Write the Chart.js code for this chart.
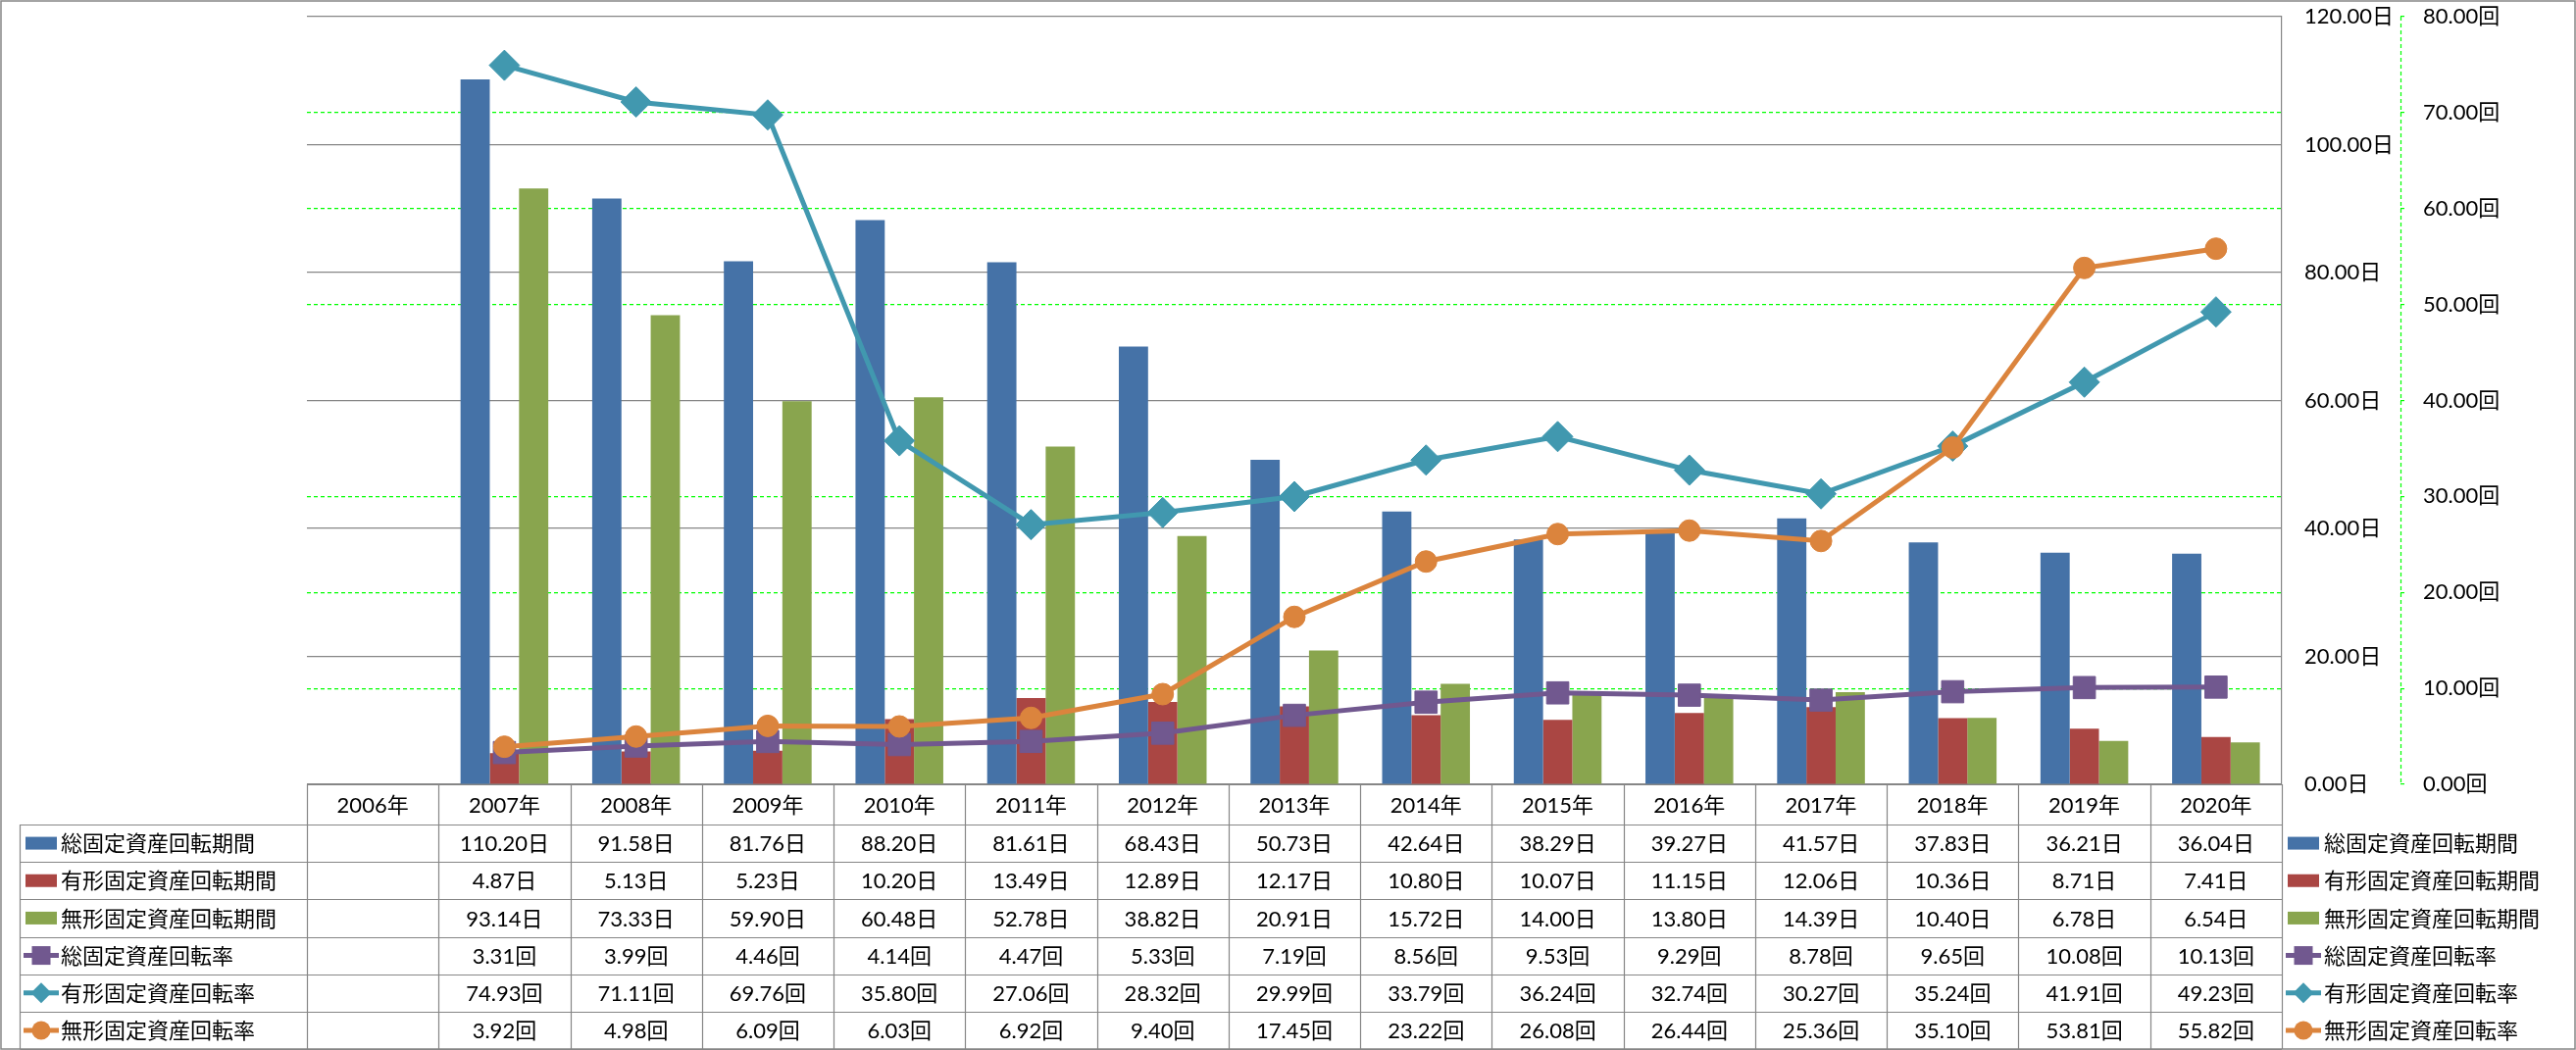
<!DOCTYPE html>
<html>
<head>
<meta charset="utf-8">
<title>固定資産回転期間・回転率</title>
<script src="https://cdn.jsdelivr.net/npm/chart.js@4.4.1/dist/chart.umd.min.js"></script>
<style>
html, body { margin: 0; padding: 0; background: #fff; }
#wrap { width: 2627px; height: 1071px; }
</style>
</head>
<body>
<div id="wrap"><canvas id="chart" width="2627" height="1071"></canvas></div>
<script>
// categories
var years = ['2006年', '2007年', '2008年', '2009年', '2010年', '2011年', '2012年', '2013年',
             '2014年', '2015年', '2016年', '2017年', '2018年', '2019年', '2020年'];

// days (primary axis)
var totalDays = [null, 110.20, 91.58, 81.76, 88.20, 81.61, 68.43, 50.73, 42.64, 38.29, 39.27, 41.57, 37.83, 36.21, 36.04];
var tangibleDays = [null, 4.87, 5.13, 5.23, 10.20, 13.49, 12.89, 12.17, 10.80, 10.07, 11.15, 12.06, 10.36, 8.71, 7.41];
var intangibleDays = [null, 93.14, 73.33, 59.90, 60.48, 52.78, 38.82, 20.91, 15.72, 14.00, 13.80, 14.39, 10.40, 6.78, 6.54];

// times (secondary axis)
var totalTurn = [null, 3.31, 3.99, 4.46, 4.14, 4.47, 5.33, 7.19, 8.56, 9.53, 9.29, 8.78, 9.65, 10.08, 10.13];
var tangibleTurn = [null, 74.93, 71.11, 69.76, 35.80, 27.06, 28.32, 29.99, 33.79, 36.24, 32.74, 30.27, 35.24, 41.91, 49.23];
var intangibleTurn = [null, 3.92, 4.98, 6.09, 6.03, 6.92, 9.40, 17.45, 23.22, 26.08, 26.44, 25.36, 35.10, 53.81, 55.82];

var dayTicks = { min: 0, max: 120, step: 20 };
var turnTicks = { min: 0, max: 80, step: 10 };

var FONT = "Lato, 'Noto Sans CJK JP', sans-serif";
var FONT_SIZE = 22;
var GREY = '#868686';
var GREEN = '#00ff00';

// rows of the data table, same order as Excel shows them
var rows = [
    { name: '総固定資産回転期間', data: totalDays, unit: '日', color: '#4572a7', kind: 'bar' },
    { name: '有形固定資産回転期間', data: tangibleDays, unit: '日', color: '#aa4643', kind: 'bar' },
    { name: '無形固定資産回転期間', data: intangibleDays, unit: '日', color: '#89a54e', kind: 'bar' },
    { name: '総固定資産回転率', data: totalTurn, unit: '回', color: '#71588f', kind: 'rect' },
    { name: '有形固定資産回転率', data: tangibleTurn, unit: '回', color: '#4198af', kind: 'rectRot' },
    { name: '無形固定資産回転率', data: intangibleTurn, unit: '回', color: '#db843d', kind: 'circle' }
];

function drawMarker(ctx, kind, x, y, s) {
    ctx.beginPath();
    if (kind === 'rect') {
        ctx.rect(x - s, y - s, s * 2, s * 2);
    } else if (kind === 'rectRot') {
        ctx.moveTo(x, y - s * 1.1);
        ctx.lineTo(x + s * 1.1, y);
        ctx.lineTo(x, y + s * 1.1);
        ctx.lineTo(x - s * 1.1, y);
        ctx.closePath();
    } else {
        ctx.arc(x, y, s, 0, Math.PI * 2);
    }
    ctx.fill();
}

function drawKey(ctx, row, x, y) {
    ctx.fillStyle = row.color;
    if (row.kind === 'bar') {
        ctx.fillRect(x + 2, y - 6.5, 32, 13);
        return;
    }
    ctx.strokeStyle = row.color;
    ctx.lineWidth = 5;
    ctx.beginPath();
    ctx.moveTo(x, y);
    ctx.lineTo(x + 36, y);
    ctx.stroke();
    drawMarker(ctx, row.kind, x + 18, y, 9.5);
}

// the tick labels may stick out above the plot, like in Excel
function noLabelPadding(scale) {
    scale.paddingTop = 0;
    scale.paddingBottom = 0;
}

// a 回 gridline that falls on a 日 gridline is not drawn (grey one wins)
function turnGridColor(ctx) {
    if (!ctx.tick) return GREEN;
    var d = ctx.tick.value / turnTicks.max * dayTicks.max;
    var n = d / dayTicks.step;
    return Math.abs(n - Math.round(n)) < 1e-6 ? 'rgba(0,0,0,0)' : GREEN;
}

var tablePlugin = {
    id: 'dataTable',
    afterDraw: function(chart) {
        var ctx = chart.ctx;
        var area = chart.chartArea;
        var xs = chart.scales.x;
        var catW = (area.right - area.left) / years.length;
        var headTop = area.bottom;
        var headBottom = headTop + 41;
        var tableBottom = 1070;
        var rowH = (tableBottom - headBottom) / rows.length;
        var labelLeft = 20.5;

        ctx.save();
        ctx.strokeStyle = GREY;
        ctx.lineWidth = 1.2;
        ctx.setLineDash([]);

        // horizontal lines
        ctx.beginPath();
        ctx.moveTo(area.left, headTop + 0.5);
        ctx.lineTo(area.right, headTop + 0.5);
        for (var r = 0; r <= rows.length; r++) {
            var yy = Math.round(headBottom + r * rowH) + 0.5;
            ctx.moveTo(labelLeft, yy);
            ctx.lineTo(area.right, yy);
        }
        // vertical lines
        ctx.moveTo(labelLeft, headBottom);
        ctx.lineTo(labelLeft, tableBottom);
        for (var c = 0; c <= years.length; c++) {
            var xx = Math.round(area.left + c * catW) + 0.5;
            ctx.moveTo(xx, headTop);
            ctx.lineTo(xx, tableBottom);
        }
        ctx.stroke();

        ctx.font = FONT_SIZE + 'px ' + FONT;
        ctx.fillStyle = '#000';
        ctx.textBaseline = 'middle';
        ctx.textAlign = 'center';
        for (var i = 0; i < years.length; i++) {
            ctx.fillText(years[i], xs.getPixelForValue(i), (headTop + headBottom) / 2 + 1);
        }

        for (var k = 0; k < rows.length; k++) {
            var row = rows[k];
            var cy = headBottom + k * rowH + rowH / 2;
            drawKey(ctx, row, 24, cy);
            ctx.fillStyle = '#000';
            ctx.textAlign = 'left';
            ctx.fillText(row.name, 62, cy + 1);
            ctx.textAlign = 'center';
            for (var j = 0; j < years.length; j++) {
                if (row.data[j] === null) continue;
                ctx.fillText(row.data[j].toFixed(2) + row.unit, xs.getPixelForValue(j), cy + 1);
            }

            // legend on the right, lined up with the table rows
            drawKey(ctx, row, 2331, cy);
            ctx.fillStyle = '#000';
            ctx.textAlign = 'left';
            ctx.fillText(row.name, 2370, cy + 1);
        }

        // dashed axis line of the 回 axis
        var y1 = chart.scales.y1;
        ctx.strokeStyle = GREEN;
        ctx.lineWidth = 1.2;
        ctx.setLineDash([4, 3]);
        ctx.beginPath();
        ctx.moveTo(Math.round(y1.left) + 0.5, area.top);
        ctx.lineTo(Math.round(y1.left) + 0.5, area.bottom);
        ctx.stroke();
        ctx.setLineDash([]);

        // outer frame
        ctx.strokeStyle = GREY;
        ctx.lineWidth = 1.5;
        ctx.strokeRect(1, 1, 2625, 1069);
        ctx.restore();
    }
};

function lineSet(row, order, radius) {
    return {
        type: 'line',
        label: row.name,
        data: row.data,
        yAxisID: 'y1',
        order: order,
        borderColor: row.color,
        backgroundColor: row.color,
        borderWidth: 5,
        tension: 0,
        pointStyle: row.kind,
        pointRadius: radius,
        pointBackgroundColor: row.color,
        pointBorderColor: row.color,
        pointBorderWidth: 1
    };
}

function barSet(row) {
    return {
        type: 'bar',
        label: row.name,
        data: row.data,
        yAxisID: 'y',
        order: 10,
        backgroundColor: row.color,
        borderWidth: 0,
        categoryPercentage: 3 / 4.5,
        barPercentage: 1
    };
}

Chart.defaults.font.family = FONT;
Chart.defaults.font.size = FONT_SIZE;
Chart.defaults.color = '#000';

var chart = new Chart(document.getElementById('chart').getContext('2d'), {
    data: {
        labels: years,
        datasets: [
            lineSet(rows[5], 0, 11),
            lineSet(rows[4], 1, 15.5),
            lineSet(rows[3], 2, 16),
            barSet(rows[0]),
            barSet(rows[1]),
            barSet(rows[2])
        ]
    },
    options: {
        responsive: false,
        animation: false,
        layout: { padding: { left: 313, top: 16, bottom: 271, right: 0 } },
        plugins: {
            legend: { display: false },
            tooltip: { enabled: false }
        },
        scales: {
            x: { display: false, offset: true },
            y: {
                position: 'right',
                weight: 0,
                min: dayTicks.min,
                max: dayTicks.max,
                afterFit: function(scale) { scale.width = 121; noLabelPadding(scale); },
                ticks: {
                    stepSize: dayTicks.step,
                    padding: 23,
                    font: { family: FONT, size: FONT_SIZE },
                    color: '#000',
                    callback: function(v) { return v.toFixed(2) + '日'; }
                },
                grid: { color: GREY, lineWidth: 1.2, drawTicks: false },
                border: { display: true, color: GREY, width: 1.2 }
            },
            y1: {
                position: 'right',
                weight: 1,
                min: turnTicks.min,
                max: turnTicks.max,
                afterFit: function(scale) { scale.width = 179; noLabelPadding(scale); },
                ticks: {
                    stepSize: turnTicks.step,
                    padding: 19,
                    font: { family: FONT, size: FONT_SIZE },
                    color: '#000',
                    callback: function(v) { return v.toFixed(2) + '回'; }
                },
                grid: {
                    color: turnGridColor,
                    tickColor: GREEN,
                    lineWidth: 1.2,
                    drawTicks: true,
                    tickLength: 4
                },
                border: { display: false, dash: [4, 3] }
            }
        }
    },
    plugins: [tablePlugin]
});
</script>
</body>
</html>
